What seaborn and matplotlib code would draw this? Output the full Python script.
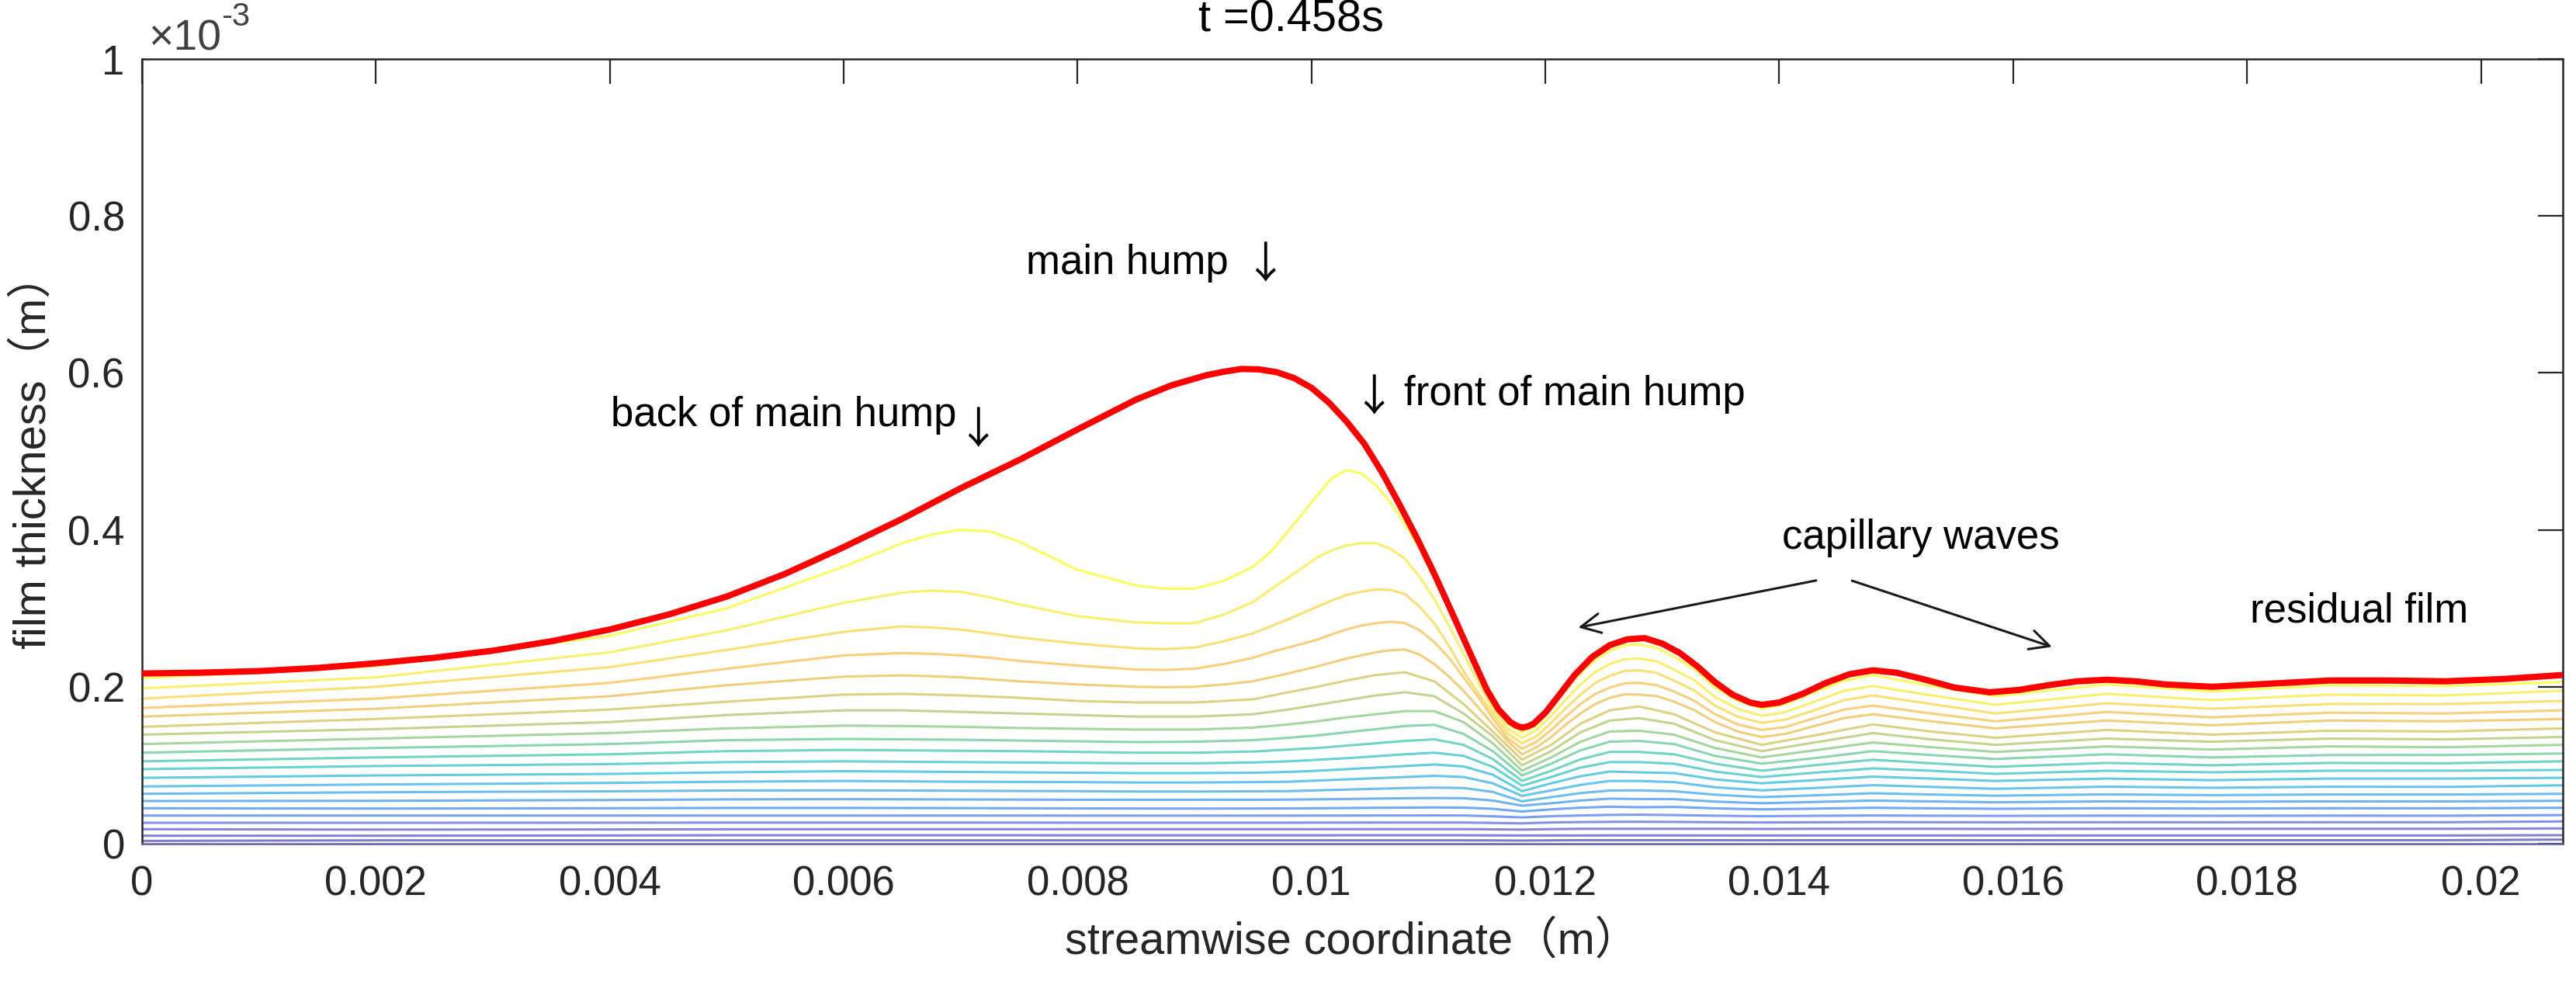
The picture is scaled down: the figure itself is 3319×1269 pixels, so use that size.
import matplotlib
matplotlib.use('Agg')
import matplotlib.pyplot as plt
from matplotlib.colors import LinearSegmentedColormap
import seaborn as sns
import pandas as pd

# film surface (thick red line), x and h in mm
surface_x = [0, 0.5, 1, 1.5, 2, 2.5, 3, 3.5, 4, 4.5, 5, 5.5, 6, 6.5, 7, 7.5, 8, 8.5, 8.8, 9.1,
             9.25, 9.4, 9.55, 9.7, 9.85, 10.0, 10.15, 10.3, 10.45, 10.6, 10.75, 10.9, 11.05, 11.2,
             11.35, 11.5, 11.6, 11.7, 11.75, 11.8, 11.85, 11.9, 12.0, 12.1, 12.25, 12.4, 12.55, 12.7,
             12.85, 13.0, 13.15, 13.3, 13.45, 13.6, 13.75, 13.85, 14.0, 14.2, 14.4, 14.6, 14.8, 15.0,
             15.25, 15.5, 15.8, 16.05, 16.3, 16.55, 16.8, 17.05, 17.3, 17.7, 18.2, 18.7, 19.2, 19.7,
             20.2, 20.7]
surface_h = [0.217, 0.218, 0.220, 0.224, 0.230, 0.237, 0.246, 0.258, 0.273, 0.292, 0.315, 0.344,
             0.378, 0.414, 0.453, 0.489, 0.528, 0.566, 0.584, 0.597, 0.6015, 0.605, 0.6045, 0.601,
             0.5935, 0.581, 0.562, 0.538, 0.510, 0.474, 0.433, 0.390, 0.344, 0.295, 0.245, 0.196,
             0.171, 0.155, 0.1505, 0.148, 0.1495, 0.153, 0.167, 0.186, 0.215, 0.238, 0.253, 0.2605,
             0.262, 0.255, 0.243, 0.226, 0.206, 0.190, 0.180, 0.177, 0.180, 0.191, 0.205, 0.216,
             0.221, 0.218, 0.209, 0.199, 0.193, 0.196, 0.202, 0.207, 0.209, 0.207, 0.203, 0.200,
             0.204, 0.208, 0.208, 0.207, 0.210, 0.215]

# upper streamlines (strongly curved) are read at these stations (mm)
station_x_top = [0, 2, 4, 5, 6, 6.5, 6.75, 7, 7.25, 7.5, 8, 8.5, 8.75, 9, 9.25, 9.5, 9.65, 9.8, 10.05,
                 10.175, 10.3, 10.425, 10.55, 10.675, 10.8, 10.925, 11.05, 11.175, 11.3, 11.425, 11.55,
                 11.675, 11.8, 11.925, 12.05, 12.175, 12.3, 12.425, 12.55, 12.675, 12.8, 12.95, 13.1,
                 13.275, 13.45, 13.65, 13.85, 14.05, 14.3, 14.55, 14.8, 15.3, 15.85, 16.8, 17.7, 18.7,
                 19.7, 20.7]

line_01 = [0.211, 0.226, 0.265, 0.300, 0.353, 0.383, 0.394, 0.400, 0.398, 0.385, 0.349, 0.329, 0.325,
           0.325, 0.335, 0.353, 0.372, 0.398, 0.444, 0.466, 0.476, 0.472, 0.457, 0.435, 0.407, 0.376,
           0.338, 0.297, 0.256, 0.214, 0.180, 0.153, 0.142, 0.151, 0.172, 0.195, 0.217, 0.234, 0.246,
           0.2527, 0.254, 0.2497, 0.238, 0.2226, 0.199, 0.1818, 0.172, 0.1775, 0.193, 0.2075, 0.215,
           0.201, 0.188, 0.203, 0.194, 0.202, 0.201, 0.206]
line_02 = [0.198, 0.212, 0.244, 0.272, 0.307, 0.320, 0.3225, 0.321, 0.314, 0.305, 0.290, 0.282, 0.281,
           0.281, 0.292, 0.308, 0.324, 0.339, 0.365, 0.374, 0.380, 0.383, 0.383, 0.376, 0.363, 0.340,
           0.312, 0.278, 0.242, 0.206, 0.172, 0.147, 0.135, 0.145, 0.163, 0.1838, 0.203, 0.2186, 0.229,
           0.235, 0.236, 0.2325, 0.222, 0.2082, 0.187, 0.1716, 0.163, 0.1677, 0.181, 0.1947, 0.201,
           0.189, 0.177, 0.191, 0.183, 0.190, 0.189, 0.195]
line_03 = [0.185, 0.200, 0.225, 0.247, 0.270, 0.277, 0.2755, 0.273, 0.268, 0.263, 0.255, 0.249, 0.248,
           0.250, 0.258, 0.268, 0.277, 0.286, 0.302, 0.310, 0.317, 0.321, 0.324, 0.3235, 0.318, 0.302,
           0.281, 0.252, 0.220, 0.192, 0.166, 0.141, 0.128, 0.137, 0.154, 0.1728, 0.190, 0.2048, 0.214,
           0.220, 0.221, 0.2176, 0.208, 0.1952, 0.176, 0.1616, 0.154, 0.158, 0.170, 0.1828, 0.189,
           0.178, 0.166, 0.179, 0.172, 0.178, 0.178, 0.182]
line_04 = [0.173, 0.185, 0.205, 0.223, 0.240, 0.243, 0.242, 0.240, 0.237, 0.233, 0.227, 0.222, 0.2215,
           0.223, 0.229, 0.237, 0.244, 0.250, 0.260, 0.267, 0.273, 0.278, 0.281, 0.283, 0.281, 0.272,
           0.257, 0.237, 0.212, 0.187, 0.160, 0.135, 0.121, 0.130, 0.145, 0.162, 0.178, 0.1907, 0.199,
           0.2044, 0.205, 0.2022, 0.194, 0.1821, 0.165, 0.1518, 0.145, 0.1486, 0.160, 0.1709, 0.176,
           0.166, 0.156, 0.168, 0.161, 0.167, 0.166, 0.170]
line_05 = [0.162, 0.172, 0.188, 0.202, 0.213, 0.2145, 0.2135, 0.212, 0.2095, 0.207, 0.203, 0.200,
           0.1995, 0.200, 0.203, 0.207, 0.212, 0.217, 0.226, 0.231, 0.236, 0.240, 0.244, 0.2465,
           0.2475, 0.241, 0.229, 0.213, 0.195, 0.174, 0.152, 0.131, 0.114, 0.123, 0.136, 0.1519, 0.166,
           0.1779, 0.186, 0.1903, 0.190, 0.1883, 0.181, 0.1701, 0.155, 0.1428, 0.136, 0.1399, 0.150,
           0.160, 0.165, 0.156, 0.147, 0.157, 0.151, 0.157, 0.156, 0.159]

# flatter streamlines further down, read at these stations (mm)
station_x = [0, 2, 4, 5, 6, 6.5, 7, 7.5, 8, 8.5, 9, 9.5, 9.8, 10.05, 10.3, 10.55, 10.8, 11.05, 11.3,
             11.55, 11.8, 12.05, 12.3, 12.55, 12.8, 13.1, 13.45, 13.85, 14.3, 14.8, 15.3, 15.85, 16.8,
             17.7, 18.7, 19.7, 20.7]

line_06 = [0.149, 0.159, 0.171, 0.181, 0.190, 0.191, 0.189, 0.186, 0.182, 0.180, 0.180, 0.184, 0.193,
           0.200, 0.208, 0.215, 0.2185, 0.207, 0.178, 0.143, 0.107, 0.126, 0.153, 0.170, 0.175, 0.165,
           0.142, 0.126, 0.138, 0.152, 0.143, 0.135, 0.145, 0.139, 0.144, 0.143, 0.147]
line_07 = [0.139, 0.146, 0.155, 0.164, 0.170, 0.170, 0.168, 0.166, 0.164, 0.162, 0.162, 0.165, 0.171,
           0.177, 0.183, 0.189, 0.193, 0.188, 0.166, 0.137, 0.100, 0.118, 0.142, 0.157, 0.160, 0.153,
           0.132, 0.118, 0.129, 0.141, 0.133, 0.126, 0.134, 0.130, 0.134, 0.133, 0.136]
line_08 = [0.127, 0.134, 0.141, 0.147, 0.1505, 0.150, 0.149, 0.1475, 0.1465, 0.1455, 0.1455, 0.148,
           0.152, 0.156, 0.161, 0.165, 0.169, 0.169, 0.155, 0.128, 0.093, 0.110, 0.130, 0.143, 0.144,
           0.139, 0.122, 0.110, 0.119, 0.129, 0.123, 0.117, 0.124, 0.120, 0.124, 0.123, 0.126]
line_09 = [0.116, 0.122, 0.127, 0.132, 0.1335, 0.133, 0.1325, 0.1315, 0.1305, 0.1295, 0.130, 0.132,
           0.135, 0.138, 0.142, 0.146, 0.150, 0.1515, 0.140, 0.118, 0.087, 0.102, 0.119, 0.130, 0.131,
           0.127, 0.112, 0.102, 0.109, 0.118, 0.113, 0.108, 0.114, 0.110, 0.113, 0.113, 0.115]
line_10 = [0.105, 0.110, 0.114, 0.118, 0.1195, 0.119, 0.1185, 0.118, 0.117, 0.116, 0.116, 0.1175, 0.120,
           0.122, 0.125, 0.128, 0.131, 0.133, 0.126, 0.108, 0.080, 0.093, 0.1075, 0.117, 0.117, 0.114,
           0.102, 0.093, 0.100, 0.107, 0.1025, 0.098, 0.103, 0.100, 0.103, 0.1025, 0.105]
line_11 = [0.095, 0.099, 0.1015, 0.104, 0.105, 0.1045, 0.104, 0.1035, 0.103, 0.1025, 0.1025, 0.1035,
           0.105, 0.107, 0.109, 0.1115, 0.114, 0.116, 0.112, 0.098, 0.074, 0.085, 0.097, 0.104, 0.104,
           0.102, 0.092, 0.085, 0.0905, 0.096, 0.093, 0.089, 0.093, 0.091, 0.093, 0.093, 0.094]
line_12 = [0.084, 0.087, 0.089, 0.091, 0.0925, 0.092, 0.0915, 0.091, 0.0905, 0.090, 0.090, 0.0905,
           0.0915, 0.093, 0.095, 0.097, 0.099, 0.101, 0.0985, 0.088, 0.067, 0.077, 0.086, 0.092, 0.091,
           0.090, 0.082, 0.077, 0.081, 0.0855, 0.083, 0.080, 0.083, 0.081, 0.083, 0.083, 0.084]
line_13 = [0.073, 0.0755, 0.0775, 0.079, 0.080, 0.0795, 0.079, 0.0788, 0.0785, 0.078, 0.078, 0.0785,
           0.079, 0.0805, 0.082, 0.0835, 0.085, 0.0865, 0.085, 0.077, 0.061, 0.068, 0.075, 0.080, 0.080,
           0.0785, 0.072, 0.068, 0.071, 0.0747, 0.0724, 0.070, 0.0727, 0.0713, 0.0726, 0.0724, 0.0745]
line_14 = [0.0636, 0.0656, 0.0668, 0.0678, 0.068, 0.0678, 0.0675, 0.0672, 0.067, 0.0665, 0.0665, 0.0668,
           0.067, 0.068, 0.069, 0.070, 0.071, 0.0715, 0.071, 0.066, 0.054, 0.0594, 0.0645, 0.0678,
           0.068, 0.0669, 0.0625, 0.0594, 0.0617, 0.0643, 0.0627, 0.0612, 0.0629, 0.0619, 0.0628,
           0.0627, 0.0636]
line_15 = [0.0544, 0.0547, 0.0557, 0.0565, 0.0568, 0.0566, 0.0564, 0.0562, 0.056, 0.056, 0.056, 0.056,
           0.0562, 0.0566, 0.057, 0.0575, 0.058, 0.0582, 0.058, 0.055, 0.0485, 0.0516, 0.0551, 0.0574,
           0.057, 0.0568, 0.0537, 0.0516, 0.0532, 0.055, 0.0539, 0.0528, 0.054, 0.0534, 0.054, 0.0539,
           0.0547]
line_16 = [0.0452, 0.0448, 0.0452, 0.0456, 0.0456, 0.0455, 0.0454, 0.0452, 0.045, 0.0449, 0.0448,
           0.0449, 0.045, 0.0452, 0.0455, 0.0458, 0.046, 0.0462, 0.046, 0.0445, 0.041, 0.0438, 0.0459,
           0.0472, 0.0465, 0.0469, 0.0451, 0.0438, 0.0447, 0.0458, 0.0451, 0.0445, 0.0452, 0.0448,
           0.0452, 0.0451, 0.0458]
line_17 = [0.0359, 0.0359, 0.0359, 0.0359, 0.0359, 0.0359, 0.0359, 0.0359, 0.0358, 0.0358, 0.0358,
           0.0358, 0.0358, 0.0359, 0.0359, 0.036, 0.036, 0.0361, 0.036, 0.035, 0.0335, 0.0351, 0.036,
           0.0367, 0.037, 0.0365, 0.0357, 0.0351, 0.0356, 0.036, 0.0357, 0.0355, 0.0358, 0.0356,
           0.0358, 0.0357, 0.0365]
line_18 = [0.0267, 0.0267, 0.0268, 0.0269, 0.0269, 0.0269, 0.0269, 0.0269, 0.0268, 0.0268, 0.0268,
           0.0268, 0.0268, 0.0269, 0.0269, 0.027, 0.027, 0.027, 0.027, 0.0265, 0.026, 0.0271, 0.0276,
           0.0279, 0.028, 0.0278, 0.0274, 0.0271, 0.0273, 0.0276, 0.0274, 0.0273, 0.0274, 0.0273,
           0.0274, 0.0274, 0.0284]
line_19 = [0.0185, 0.018, 0.0182, 0.0184, 0.0185, 0.0185, 0.0185, 0.0185, 0.0185, 0.0185, 0.0185,
           0.0185, 0.0185, 0.0185, 0.0186, 0.0186, 0.0186, 0.0186, 0.0186, 0.0183, 0.018, 0.0186, 0.019,
           0.019, 0.019, 0.019, 0.019, 0.0188, 0.019, 0.019, 0.019, 0.0188, 0.019, 0.019, 0.019, 0.019,
           0.0195]
line_20 = [0.0102, 0.0102, 0.0105, 0.0108, 0.0108, 0.0108, 0.0108, 0.0108, 0.0107, 0.0107, 0.0107,
           0.0107, 0.0107, 0.0107, 0.0108, 0.0108, 0.0108, 0.0108, 0.0108, 0.0106, 0.0105, 0.0105,
           0.0105, 0.0106, 0.0106, 0.0106, 0.0105, 0.0105, 0.0105, 0.0105, 0.0105, 0.0105, 0.0105,
           0.0105, 0.0105, 0.0105, 0.0109]
line_21 = [0.0036, 0.0043, 0.0043, 0.0043, 0.0043, 0.0043, 0.0043, 0.0043, 0.0043, 0.0043, 0.0043,
           0.0043, 0.0043, 0.0043, 0.0043, 0.0043, 0.0043, 0.0043, 0.0043, 0.0042, 0.004, 0.0043, 0.0045,
           0.0045, 0.0045, 0.0045, 0.0045, 0.0044, 0.0045, 0.0045, 0.0045, 0.0044, 0.0045, 0.0045,
           0.0045, 0.0045, 0.0053]

xtick_values = [0, 0.002, 0.004, 0.006, 0.008, 0.01, 0.012, 0.014, 0.016, 0.018, 0.02]
xtick_labels = ['0', '0.002', '0.004', '0.006', '0.008', '0.01', '0.012', '0.014', '0.016', '0.018', '0.02']
ytick_values = [0, 0.0002, 0.0004, 0.0006, 0.0008, 0.001]
ytick_labels = ['0', '0.2', '0.4', '0.6', '0.8', '1']


def main():
    top_lines = [line_01, line_02, line_03, line_04, line_05]
    low_lines = [line_06, line_07, line_08, line_09, line_10, line_11, line_12, line_13, line_14,
                 line_15, line_16, line_17, line_18, line_19, line_20, line_21]

    df = {'x': [], 'y': [], 'line': []}
    for i, ys in enumerate(top_lines + low_lines):
        xs = station_x_top if i < len(top_lines) else station_x
        for xv, yv in zip(xs, ys):
            df['x'].append(xv * 1e-3)
            df['y'].append(yv * 1e-3)
            df['line'].append('L%02d' % (i + 1))
    df = pd.DataFrame.from_dict(df)

    surf = pd.DataFrame({'x': [v * 1e-3 for v in surface_x], 'h': [v * 1e-3 for v in surface_h]})

    plotting(df, surf)


def plotting(df, surf):
    sns.set_style('white')
    plt.rcParams['font.family'] = ['Liberation Sans', 'Noto Sans CJK SC', 'DejaVu Sans']

    # parula-like map, top streamline yellow, wall side purple
    cmap = LinearSegmentedColormap.from_list('parula_like', [
        (0.00, '#4b3fa8'), (0.10, '#4f4fd0'), (0.17, '#4766e4'), (0.25, '#307ff0'),
        (0.35, '#2a9ee8'), (0.45, '#18b4d8'), (0.50, '#1fbdc0'), (0.56, '#34c29e'),
        (0.64, '#70c478'), (0.70, '#a4c058'), (0.75, '#cbbc48'), (0.80, '#ecb83e'),
        (0.85, '#f8b93c'), (0.90, '#fad032'), (0.95, '#f6e824'), (1.00, '#f9fb0e')])
    names = ['L%02d' % (i + 1) for i in range(21)]
    palette = {n: cmap(1.0 - 0.05 * i) for i, n in enumerate(names)}

    fig = plt.figure(figsize=(33.19, 12.69), dpi=100)
    ax = fig.add_axes([0.05514, 0.14342, 0.93974, 0.79669])

    sns.lineplot(data=df, x='x', y='y', hue='line', hue_order=names[::-1], palette=palette,
                 estimator=None, sort=False, legend=False, linewidth=2.2, alpha=0.68,
                 solid_joinstyle='round', ax=ax)
    sns.lineplot(data=surf, x='x', y='h', color='#ff0000', linewidth=5.8, estimator=None,
                 sort=False, solid_joinstyle='round', ax=ax, zorder=5)

    ax.set_xlim(0, 0.0207)
    ax.set_ylim(0, 0.001)
    ax.set_xticks(xtick_values, labels=xtick_labels)
    ax.set_yticks(ytick_values, labels=ytick_labels)
    ax.tick_params(direction='in', length=23, width=1.6, top=True, right=True,
                   labelsize=38, color='#262626', labelcolor='#262626')
    ax.tick_params(axis='x', pad=20)
    ax.tick_params(axis='y', pad=16)
    for side in ['left', 'right', 'top', 'bottom']:
        ax.spines[side].set_visible(True)
        ax.spines[side].set_color('#262626')
        ax.spines[side].set_linewidth(1.8)
    ax.spines['bottom'].set_color('#5f5da0')

    ax.set_xlabel('streamwise coordinate（m）', fontsize=41.5, color='#262626')
    ax.set_ylabel('film thickness（m）', fontsize=41.5, color='#262626')
    ax.xaxis.set_label_coords(0.5, -0.098)
    ax.yaxis.set_label_coords(-0.036, 0.5)

    ax.text(0.4748, 1.0356, 't =0.458s', transform=ax.transAxes, ha='center', va='baseline',
            fontsize=41.5, color='black')
    ax.text(0.0026, 1.0109, '×10', transform=ax.transAxes, ha='left', va='baseline',
            fontsize=40, color='#404040')
    ax.text(0.0327, 1.0425, '-3', transform=ax.transAxes, ha='left', va='baseline',
            fontsize=30, color='#404040')

    # annotations
    ax.text(0.007560, 0.000740, 'main hump', ha='left', va='center', fontsize=38, color='black')
    ax.text(0.004008, 0.000546, 'back of main hump', ha='left', va='center', fontsize=38, color='black')
    ax.text(0.010790, 0.000573, 'front of main hump', ha='left', va='center', fontsize=38, color='black')
    arrow_font = ['Noto Sans CJK SC', 'DejaVu Sans']
    ax.text(0.009600, 0.0007365, '↓', ha='center', va='center', fontsize=40, family=arrow_font, color='black')
    ax.text(0.007150, 0.000526, '↓', ha='center', va='center', fontsize=40, family=arrow_font, color='black')
    ax.text(0.010531, 0.0005675, '↓', ha='center', va='center', fontsize=40, family=arrow_font, color='black')
    ax.text(0.015209, 0.000390, 'capillary waves', ha='center', va='center', fontsize=38, color='black')
    ax.text(0.018958, 0.000296, 'residual film', ha='center', va='center', fontsize=38, color='black')
    ax.annotate('', xy=(0.012263, 0.000275), xytext=(0.014333, 0.000336),
                arrowprops=dict(arrowstyle='->', color='#1a1a1a', lw=2.2, mutation_scale=45))
    ax.annotate('', xy=(0.016350, 0.000250), xytext=(0.014605, 0.000336),
                arrowprops=dict(arrowstyle='->', color='#1a1a1a', lw=2.2, mutation_scale=45))

    plt.savefig('out.png', dpi=100)
    plt.close()


if __name__ == '__main__':
    main()
